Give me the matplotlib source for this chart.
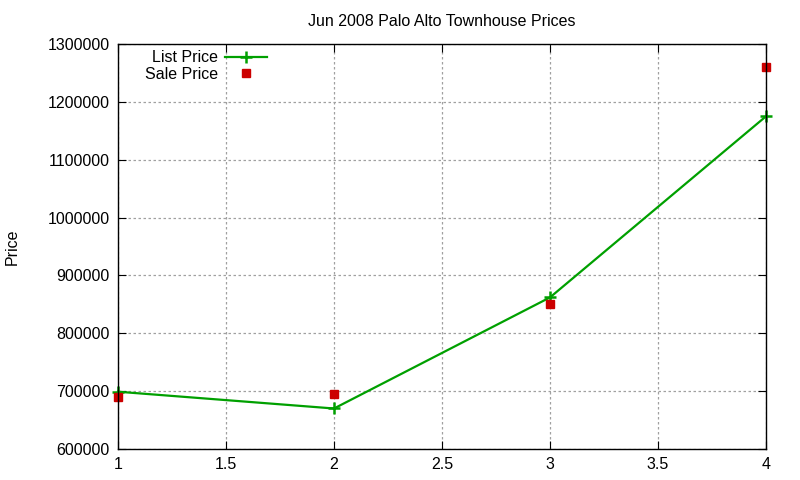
import matplotlib
matplotlib.use("Agg")
import matplotlib.pyplot as plt

plt.rcParams["font.family"] = ["Liberation Sans", "DejaVu Sans"]

# data
months = [1, 2, 3, 4]
list_price = [699000, 670000, 862000, 1175000]
sale_price = [690000, 695000, 851000, 1260000]

LIST_COLOUR = "#00a000"
SALE_COLOUR = "#cc0000"

fig = plt.figure(figsize=(8, 4.8), dpi=100)
ax = fig.add_axes([118 / 800, 1 - 449 / 480, (766 - 118) / 800, (449 - 44) / 480])

ax.plot(months, list_price, color=LIST_COLOUR, linewidth=1.6, marker="+",
        markersize=8, markeredgewidth=1.8, label="List Price", clip_on=False)
ax.plot(months, sale_price, linestyle="none", color=SALE_COLOUR, marker="s",
        markersize=6, label="Sale Price", clip_on=False)

ax.set_xlim(1, 4)
ax.set_ylim(600000, 1300000)
ax.set_xticks([1, 1.5, 2, 2.5, 3, 3.5, 4])
ax.set_xticklabels(["1", "1.5", "2", "2.5", "3", "3.5", "4"])
ax.set_yticks(range(600000, 1300001, 100000))
ax.set_yticklabels([str(v) for v in range(600000, 1300001, 100000)])
ax.grid(True, color="#a0a0a0", linestyle=(0, (2, 2)), linewidth=0.9)
ax.tick_params(direction="in", top=True, right=True, length=6, labelsize=11.5,
               pad=6)
for sp in ax.spines.values():
    sp.set_linewidth(1.0)

ax.set_title("Jun 2008 Palo Alto Townhouse Prices", fontsize=11.5, pad=13)
ax.set_ylabel("Price", fontsize=11.5)
ax.yaxis.set_label_coords(-0.152, 0.5)

ax.legend(loc="upper left", bbox_to_anchor=(0.027, 1.008), frameon=False,
          markerfirst=False, fontsize=11.5, handlelength=2.6,
          labelspacing=0.1, borderaxespad=0.2, handletextpad=0.45)

fig.savefig("out.png", dpi=100)
